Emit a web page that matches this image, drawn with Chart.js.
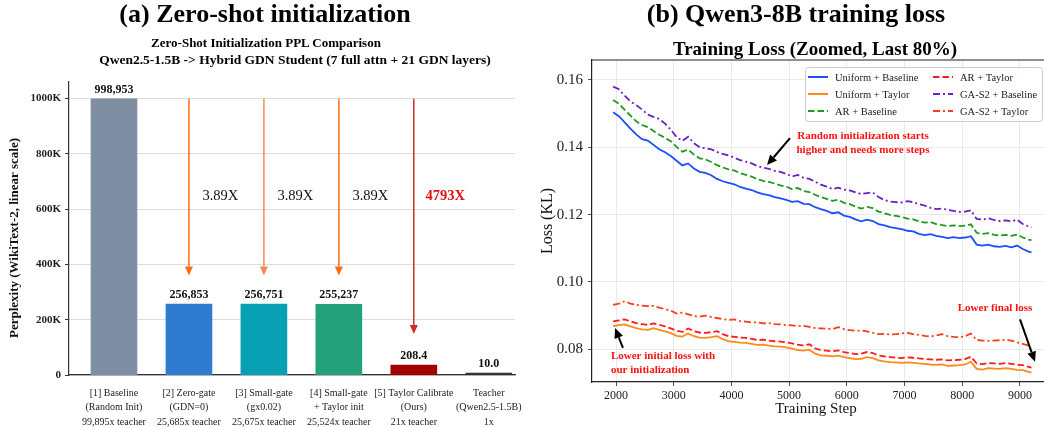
<!DOCTYPE html>
<html><head><meta charset="utf-8">
<script src="https://cdn.jsdelivr.net/npm/chart.js@4.4.1/dist/chart.umd.min.js"></script>
<style>
html,body{margin:0;padding:0;background:#fff;}
#wrap{position:relative;width:1044px;height:427px;overflow:hidden;background:#fff;}
.t{position:absolute;font-family:"Liberation Serif","Times New Roman",serif;font-weight:bold;color:#000;white-space:nowrap;transform:translate(-50%,-50%);line-height:1;}
canvas{position:absolute;top:0;}
</style></head><body>
<div id="wrap">
<canvas id="c1" width="540" height="427" style="left:0;width:540px;height:427px"></canvas>
<canvas id="c2" width="524" height="427" style="left:520px;width:524px;height:427px"></canvas>
<div class="t" style="left:265px;top:14px;font-size:26px">(a) Zero-shot initialization</div>
<div class="t" style="left:266px;top:42px;font-size:13px">Zero-Shot Initialization PPL Comparison</div>
<div class="t" style="left:295px;top:60px;font-size:13.5px">Qwen2.5-1.5B -&gt; Hybrid GDN Student (7 full attn + 21 GDN layers)</div>
<div class="t" style="left:796px;top:14px;font-size:26px">(b) Qwen3-8B training loss</div>
<div class="t" style="left:815px;top:48px;font-size:19px">Training Loss (Zoomed, Last 80%)</div>
</div>
<script>
// ---------------- Panel (a) data ----------------
const categories = [
  ['[1] Baseline','(Random Init)','99,895x teacher'],
  ['[2] Zero-gate','(GDN=0)','25,685x teacher'],
  ['[3] Small-gate','(gx0.02)','25,675x teacher'],
  ['[4] Small-gate','+ Taylor init','25,524x teacher'],
  ['[5] Taylor Calibrate','(Ours)','21x teacher'],
  ['Teacher','(Qwen2.5-1.5B)','1x']
];
const ppl = [998953, 256853, 256751, 255237, 208.4, 10.0];
const valueLabels = ['998,953','256,853','256,751','255,237','208.4','10.0'];
const barColors = ['#7f8ea3','#2f7bd0','#069fb3','#24a07b','#a30000','#333333'];
const yTicksA = [0, 200000, 400000, 600000, 800000, 1000000];
const arrowIdx = [1, 2, 3, 4];
const arrowTips = [360000, 360000, 360000, 148000];
const arrowColors = ['#ff6a1a','#f58a4e','#ff6a1a','#c62f2a'];
const ratioLabels = ['3.89X','3.89X','3.89X','4793X'];

// ---------------- Panel (b) data ----------------
const steps = [1950,2050,2150,2250,2350,2450,2550,2650,2750,2850,2950,3050,3150,3250,3350,3450,3550,3650,3750,3850,3950,4050,4150,4250,4350,4450,4550,4650,4750,4850,4950,5050,5150,5250,5350,5450,5550,5650,5750,5850,5950,6050,6150,6250,6350,6450,6550,6650,6750,6850,6950,7050,7150,7250,7350,7450,7550,7650,7750,7850,7950,8050,8150,8250,8350,8450,8550,8650,8750,8850,8950,9050,9150,9200];
const uniformBaseline = [.1504,.1492,.1474,.1455,.1438,.1424,.1420,.1407,.1394,.1385,.1374,.1360,.1346,.1352,.1337,.1327,.1324,.1317,.1306,.1299,.1294,.1290,.1282,.1277,.1273,.1266,.1261,.1258,.1252,.1248,.1244,.1238,.1240,.1232,.1231,.1222,.1216,.1211,.1204,.1207,.1197,.1193,.1186,.1180,.1185,.1181,.1172,.1168,.1163,.1160,.1157,.1152,.1150,.1143,.1139,.1142,.1137,.1134,.1130,.1133,.1130,.1132,.1136,.1111,.1108,.1111,.1106,.1104,.1107,.1103,.1108,.1098,.1090,.1088];
const uniformTaylor = [.0869,.0872,.0874,.0868,.0863,.0859,.0858,.0863,.0858,.0853,.0848,.0840,.0838,.0847,.0839,.0835,.0834,.0836,.0839,.0830,.0824,.0822,.0820,.0819,.0816,.0813,.0814,.0811,.0809,.0808,.0806,.0802,.0798,.0796,.0799,.0787,.0782,.0781,.0779,.0781,.0777,.0774,.0771,.0772,.0777,.0774,.0767,.0764,.0762,.0761,.0760,.0761,.0760,.0758,.0757,.0755,.0754,.0755,.0751,.0752,.0753,.0755,.0763,.0742,.0740,.0744,.0743,.0742,.0744,.0742,.0739,.0738,.0733,.0731];
const arBaseline = [.1540,.1529,.1511,.1494,.1477,.1466,.1460,.1448,.1437,.1428,.1418,.1401,.1387,.1393,.1378,.1367,.1364,.1356,.1347,.1340,.1334,.1331,.1323,.1318,.1313,.1305,.1300,.1297,.1292,.1287,.1283,.1276,.1279,.1270,.1267,.1259,.1252,.1247,.1241,.1244,.1235,.1231,.1224,.1218,.1223,.1219,.1209,.1204,.1199,.1196,.1193,.1188,.1186,.1180,.1176,.1178,.1172,.1169,.1166,.1168,.1166,.1167,.1171,.1146,.1143,.1145,.1140,.1138,.1140,.1137,.1141,.1132,.1126,.1124];
const arTaylor = [.0883,.0886,.0889,.0883,.0878,.0875,.0872,.0877,.0873,.0868,.0862,.0855,.0852,.0862,.0854,.0850,.0849,.0851,.0854,.0845,.0839,.0837,.0835,.0834,.0831,.0828,.0829,.0826,.0824,.0823,.0821,.0818,.0814,.0811,.0815,.0803,.0798,.0796,.0794,.0797,.0792,.0789,.0786,.0787,.0792,.0789,.0782,.0779,.0777,.0775,.0774,.0776,.0775,.0773,.0771,.0770,.0769,.0770,.0767,.0768,.0769,.0771,.0778,.0758,.0756,.0759,.0758,.0757,.0759,.0757,.0754,.0753,.0748,.0746];
const gaS2Baseline = [.1580,.1572,.1553,.1536,.1525,.1512,.1497,.1490,.1484,.1470,.1452,.1430,.1419,.1431,.1412,.1400,.1397,.1394,.1386,.1380,.1376,.1369,.1362,.1357,.1352,.1344,.1339,.1336,.1330,.1327,.1321,.1313,.1318,.1309,.1306,.1298,.1289,.1283,.1276,.1280,.1274,.1272,.1266,.1261,.1264,.1266,.1252,.1243,.1239,.1237,.1236,.1240,.1237,.1231,.1227,.1220,.1216,.1218,.1214,.1211,.1208,.1209,.1213,.1187,.1185,.1189,.1184,.1181,.1183,.1180,.1185,.1172,.1165,.1162];
const gaS2Taylor = [.0932,.0936,.0943,.0936,.0932,.0930,.0928,.0929,.0924,.0919,.0915,.0906,.0909,.0904,.0899,.0897,.0900,.0896,.0893,.0890,.0887,.0889,.0884,.0882,.0880,.0880,.0877,.0878,.0875,.0874,.0872,.0871,.0869,.0870,.0867,.0863,.0862,.0861,.0860,.0866,.0860,.0857,.0855,.0856,.0853,.0849,.0845,.0846,.0844,.0845,.0847,.0849,.0845,.0843,.0840,.0838,.0841,.0845,.0839,.0837,.0836,.0839,.0847,.0828,.0826,.0825,.0826,.0827,.0828,.0826,.0821,.0816,.0811,.0810];
const seriesNames = ['Uniform + Baseline','Uniform + Taylor','AR + Baseline','AR + Taylor','GA-S2 + Baseline','GA-S2 + Taylor'];
const xTicksB = [2000,3000,4000,5000,6000,7000,8000,9000];
const yTicksB = [0.08,0.10,0.12,0.14,0.16];

// ---------------- helpers ----------------
const SERIF = '"Liberation Serif","Times New Roman",serif';
function arrow(ctx, x1, y1, x2, y2, color, lw, hl, hw) {
  const a = Math.atan2(y2 - y1, x2 - x1);
  const bx = x2 - hl * Math.cos(a), by = y2 - hl * Math.sin(a);
  ctx.save();
  ctx.strokeStyle = color; ctx.fillStyle = color; ctx.lineWidth = lw;
  ctx.beginPath(); ctx.moveTo(x1, y1); ctx.lineTo(bx, by); ctx.stroke();
  ctx.beginPath();
  ctx.moveTo(x2, y2);
  ctx.lineTo(bx + hw * Math.sin(a), by - hw * Math.cos(a));
  ctx.lineTo(bx - hw * Math.sin(a), by + hw * Math.cos(a));
  ctx.closePath(); ctx.fill();
  ctx.restore();
}
function noPad(s) { s.paddingLeft = 0; s.paddingRight = 0; s.paddingTop = 0; s.paddingBottom = 0; }

// ---------------- Chart (a) ----------------
const minLens = [0, 0, 0, 0, 10, 2];
const annoA = {
  id: 'annoA',
  afterDatasetsDraw(chart) {
    const {ctx, scales: {x, y}} = chart;
    const y0 = y.getPixelForValue(0);
    ctx.save();
    ctx.font = 'bold 12px ' + SERIF;
    ctx.textAlign = 'center'; ctx.textBaseline = 'alphabetic';
    ctx.fillStyle = '#111';
    ppl.forEach((v, i) => {
      const top = Math.min(y.getPixelForValue(v), y0 - minLens[i]);
      ctx.fillText(valueLabels[i], x.getPixelForValue(i), top - 6);
    });
    arrowIdx.forEach((i, k) => {
      const px = x.getPixelForValue(i);
      arrow(ctx, px, y.getPixelForValue(ppl[0]), px, y.getPixelForValue(arrowTips[k]), arrowColors[k], 1.5, 9, 4);
      ctx.font = (k === 3 ? 'bold ' : '') + '14.5px ' + SERIF;
      ctx.fillStyle = k === 3 ? '#e01010' : '#111';
      ctx.textBaseline = 'middle';
      ctx.fillText(ratioLabels[k], x.getPixelForValue(i + 0.42), y.getPixelForValue(646000));
    });
    ctx.restore();
  },
  afterDraw(chart) {
    const {ctx} = chart;
    ctx.save();
    ctx.translate(15, 238);
    ctx.rotate(-Math.PI / 2);
    ctx.font = 'bold 13px ' + SERIF;
    ctx.fillStyle = '#111';
    ctx.textAlign = 'center'; ctx.textBaseline = 'middle';
    ctx.fillText('Perplexity (WikiText-2, linear scale)', 0, 0);
    ctx.restore();
  }
};
const barOpts = {grouped: false, barThickness: 46, borderWidth: 0};
new Chart(document.getElementById('c1'), {
  type: 'bar',
  data: {
    datasets: [
      Object.assign({data: [0,1,2,3].map(i => ({x: i, y: ppl[i]})), backgroundColor: barColors.slice(0, 4)}, barOpts),
      Object.assign({data: [{x: 4, y: ppl[4]}], backgroundColor: barColors[4], minBarLength: minLens[4]}, barOpts),
      Object.assign({data: [{x: 5, y: ppl[5]}], backgroundColor: barColors[5], minBarLength: minLens[5]}, barOpts)
    ]
  },
  options: {
    responsive: false, animation: false, devicePixelRatio: 1,
    layout: {padding: {top: 82, right: 25, left: 0, bottom: 0}},
    plugins: {legend: {display: false}, tooltip: {enabled: false}},
    scales: {
      x: {
        type: 'linear', min: -0.6, max: 5.35, offset: false,
        afterBuildTicks(s) { s.ticks = categories.map((c, i) => ({value: i})); },
        afterFit(s) { s.height = 427 - 375; noPad(s); },
        grid: {display: false, drawTicks: false},
        border: {display: true, color: '#333', width: 1.2},
        ticks: {
          autoSkip: false, maxRotation: 0, padding: 11,
          color: '#222', font: {family: SERIF, size: 10, lineHeight: 1.45},
          callback(v) { return categories[v] || ''; }
        }
      },
      y: {
        min: 0, max: 1060000,
        afterBuildTicks(s) { s.ticks = yTicksA.map(v => ({value: v})); },
        afterFit(s) { s.width = 69; noPad(s); },
        grid: {color: '#d4d4d4', lineWidth: 0.8, borderDash: [4, 4], tickColor: '#333', tickLength: 4, tickBorderDash: [], tickWidth: 1},
        border: {display: true, color: '#333', width: 1.2},
        ticks: {
          padding: 4, color: '#222', font: {family: SERIF, size: 11, weight: 'bold'},
          callback(v) { return v === 0 ? '0' : (v / 1000) + 'K'; }
        }
      }
    }
  },
  plugins: [annoA]
});

// ---------------- Chart (b) ----------------
const lineStyles = [
  {c: '#1a4fff', d: []},
  {c: '#ff8a1a', d: []},
  {c: '#1e9a1e', d: [6.5, 3]},
  {c: '#ff1a1a', d: [6.5, 3]},
  {c: '#6a1fc8', d: [7, 3, 2, 3]},
  {c: '#ff3a1a', d: [7, 3, 2, 3]}
];
const seriesData = [uniformBaseline, uniformTaylor, arBaseline, arTaylor, gaS2Baseline, gaS2Taylor];
const annoB = {
  id: 'annoB',
  afterDatasetsDraw(chart) {
    const {ctx, chartArea: ca, scales: {x, y}} = chart;
    ctx.save();
    ctx.strokeStyle = '#222'; ctx.lineWidth = 1.2;
    ctx.beginPath(); ctx.moveTo(ca.left, ca.top); ctx.lineTo(ca.right, ca.top); ctx.stroke();
    ctx.font = 'bold 11px ' + SERIF;
    ctx.fillStyle = '#ff1010';
    ctx.textAlign = 'center'; ctx.textBaseline = 'middle';
    let cx = x.getPixelForValue(6280), cy = y.getPixelForValue(0.1412);
    ctx.fillText('Random initialization starts', cx, cy - 7);
    ctx.fillText('higher and needs more steps', cx, cy + 7);
    arrow(ctx, x.getPixelForValue(5015), y.getPixelForValue(0.1427), x.getPixelForValue(4617), y.getPixelForValue(0.1347), '#000', 2, 10, 4.5);
    cx = x.getPixelForValue(2815); cy = y.getPixelForValue(0.0758);
    ctx.textAlign = 'left';
    const tl = cx - ctx.measureText('Lower initial loss with').width / 2;
    ctx.fillText('Lower initial loss with', tl, cy - 7);
    ctx.fillText('our initialization', tl, cy + 7);
    ctx.textAlign = 'center';
    arrow(ctx, x.getPixelForValue(2121), y.getPixelForValue(0.0804), x.getPixelForValue(1983), y.getPixelForValue(0.0863), '#000', 2, 10, 4.5);
    ctx.fillText('Lower final loss', x.getPixelForValue(8568), y.getPixelForValue(0.0921));
    arrow(ctx, x.getPixelForValue(9001), y.getPixelForValue(0.0889), x.getPixelForValue(9261), y.getPixelForValue(0.0763), '#000', 2, 10, 4.5);
    // legend
    const lx = 805 - 520, ly = 67, lw = 237, lh = 54;
    ctx.fillStyle = 'rgba(255,255,255,0.85)';
    ctx.strokeStyle = '#cccccc'; ctx.lineWidth = 1;
    ctx.beginPath();
    if (ctx.roundRect) ctx.roundRect(lx + 0.5, ly + 0.5, lw, lh, 3); else ctx.rect(lx + 0.5, ly + 0.5, lw, lh);
    ctx.fill(); ctx.stroke();
    ctx.font = '10.5px ' + SERIF; ctx.textAlign = 'left'; ctx.fillStyle = '#222';
    seriesNames.forEach((n, i) => {
      const col = i < 3 ? 0 : 1, row = i % 3;
      const hx = (col === 0 ? 808 : 933) - 520;
      const hy = [77, 94, 111][row];
      ctx.save();
      ctx.strokeStyle = lineStyles[i].c; ctx.lineWidth = 2;
      ctx.setLineDash(lineStyles[i].d);
      ctx.beginPath(); ctx.moveTo(hx, hy); ctx.lineTo(hx + 20, hy); ctx.stroke();
      ctx.restore();
      ctx.fillText(n, hx + 27, hy + 1);
    });
    ctx.restore();
  },
  afterDraw(chart) {
    const {ctx, chartArea: ca} = chart;
    ctx.save();
    ctx.fillStyle = '#111';
    ctx.textAlign = 'center'; ctx.textBaseline = 'middle';
    ctx.font = '15px ' + SERIF;
    ctx.fillText('Training Step', 816 - 520, 409);
    ctx.translate(548 - 520, (ca.top + ca.bottom) / 2);
    ctx.rotate(-Math.PI / 2);
    ctx.font = '16px ' + SERIF;
    ctx.fillText('Loss (KL)', 0, 0);
    ctx.restore();
  }
};
new Chart(document.getElementById('c2'), {
  type: 'line',
  data: {
    datasets: seriesData.map((arr, i) => ({
      label: seriesNames[i],
      data: steps.map((s, k) => ({x: s, y: arr[k]})),
      borderColor: lineStyles[i].c, borderDash: lineStyles[i].d,
      borderWidth: 1.8, pointRadius: 0, tension: 0, fill: false
    }))
  },
  options: {
    responsive: false, animation: false, devicePixelRatio: 1,
    layout: {padding: {top: 60, right: 0, left: 0, bottom: 0}},
    plugins: {legend: {display: false}, tooltip: {enabled: false}},
    scales: {
      x: {
        type: 'linear', min: 1584, max: 9417,
        afterBuildTicks(s) { s.ticks = xTicksB.map(v => ({value: v})); },
        afterFit(s) { s.height = 427 - 382; noPad(s); },
        grid: {color: '#e3e3e3', lineWidth: 0.8, borderDash: [2, 2], tickColor: '#222', tickLength: 4, tickBorderDash: []},
        border: {display: true, color: '#222', width: 1.2},
        ticks: {padding: 3, color: '#222', font: {family: SERIF, size: 12}, callback(v) { return String(v); }}
      },
      y: {
        min: 0.0703, max: 0.1659,
        afterBuildTicks(s) { s.ticks = yTicksB.map(v => ({value: v})); },
        afterFit(s) { s.width = 72; noPad(s); },
        grid: {color: '#e3e3e3', lineWidth: 0.8, borderDash: [2, 2], tickColor: '#222', tickLength: 4, tickBorderDash: []},
        border: {display: true, color: '#222', width: 1.2},
        ticks: {padding: 5, color: '#222', font: {family: SERIF, size: 15}, callback(v) { return v.toFixed(2); }}
      }
    }
  },
  plugins: [annoB]
});
</script>
</body></html>
